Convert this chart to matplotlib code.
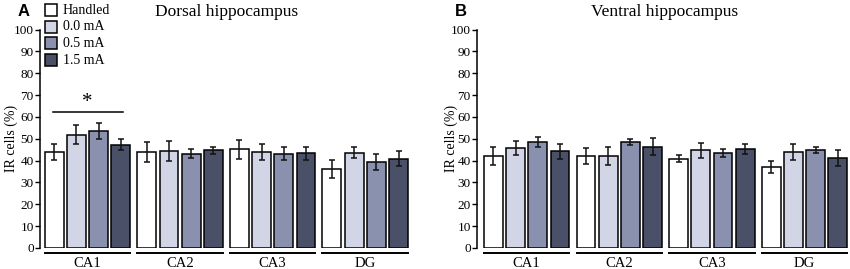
import matplotlib
matplotlib.use("Agg")
import matplotlib.pyplot as plt
from matplotlib.patches import Rectangle

regions = ["CA1", "CA2", "CA3", "DG"]
groups = ["Handled", "0.0 mA", "0.5 mA", "1.5 mA"]
colors = ["#ffffff", "#d2d5e5", "#8a91ae", "#4a5068"]

dorsal_mean = [[44.0, 51.9, 53.6, 47.2],
               [44.0, 44.4, 43.2, 44.7],
               [45.2, 44.0, 43.2, 43.3],
               [36.3, 43.6, 39.4, 40.9]]
dorsal_err = [[3.8, 4.5, 3.6, 2.5],
              [4.6, 4.6, 2.0, 1.5],
              [4.3, 3.6, 3.0, 2.9],
              [4.2, 2.6, 3.6, 3.3]]
ventral_mean = [[42.1, 45.8, 48.5, 44.3],
                [42.1, 42.1, 48.5, 46.4],
                [40.9, 44.7, 43.3, 45.2],
                [37.2, 44.0, 44.9, 41.2]]
ventral_err = [[4.0, 3.3, 2.5, 3.4],
               [3.8, 4.2, 1.3, 3.8],
               [1.6, 3.4, 1.8, 2.3],
               [2.7, 3.7, 1.5, 3.8]]

serif = "Liberation Serif"
plt.rcParams['font.family'] = [serif, 'DejaVu Serif']

fig = plt.figure(figsize=(8.5, 2.69), dpi=100)
W, H = 850, 269
bottom = (H - 248) / H
height = (248 - 29.5) / H
step = 4.17
bw = 0.85
pxu = 22.2

def panel(left_px, xmin, means, errs, title, letter, letter_px, label_right_px, legend=False):
    xmax = 16.2
    width_px = (xmax - xmin) * pxu
    ax = fig.add_axes([left_px / W, bottom, width_px / W, height])
    for g in range(4):
        for i in range(4):
            x = g * step + i
            ax.bar(x, means[g][i], width=bw, color=colors[i], edgecolor="black",
                   linewidth=1.1, zorder=2)
            ax.errorbar(x, means[g][i], yerr=errs[g][i], color="#111111",
                        capsize=2.3, elinewidth=1.1, capthick=1.1, zorder=3)
        x0 = g * step - bw / 2
        x1 = g * step + 3 + bw / 2
        ax.plot([x0, x1], [-2.4, -2.4], color="black", lw=1.4, clip_on=False)
        ax.text(g * step + 1.5, -4.2, regions[g], ha="center", va="top",
                fontsize=10.5, clip_on=False)
    ax.set_xlim(xmin, xmax)
    ax.set_ylim(0, 100)
    ax.set_yticks(range(0, 101, 10))
    ax.tick_params(axis="y", direction="out", length=3.5, width=1.0,
                   labelsize=9.5, pad=1)
    ax.set_xticks([])
    for s in ["top", "right", "bottom"]:
        ax.spines[s].set_visible(False)
    ax.spines["left"].set_linewidth(1.1)
    ax.set_ylabel("IR cells (%)", fontsize=10)
    ax.yaxis.set_label_coords((label_right_px - left_px) / width_px, 0.5)
    fig.text((left_px + width_px / 2) / W, 1 - 12 / H, title, ha="center",
             va="center", fontsize=12.5)
    fig.text(letter_px / W, 1 - 12 / H, letter, ha="left", va="center",
             fontsize=12, fontweight="bold", family="Liberation Sans")
    if legend:
        for k, lab in enumerate(groups):
            yc = 10 + k * 16.7
            fig.patches.append(Rectangle((45 / W, 1 - (yc + 6) / H), 12 / W, 12 / H,
                                         transform=fig.transFigure,
                                         facecolor=colors[k], edgecolor="black",
                                         linewidth=1.1))
            fig.text(63 / W, 1 - yc / H, lab, ha="left", va="center", fontsize=10)
    return ax

axA = panel(40, -0.64, dorsal_mean, dorsal_err, "Dorsal hippocampus", "A", 18, 17.5, legend=True)
axA.plot([-0.05, 3.1], [62.1, 62.1], color="black", lw=1.1)
axA.text(1.5, 66.4, "*", ha="center", va="center", fontsize=15)
axB = panel(477, -0.74, ventral_mean, ventral_err, "Ventral hippocampus", "B", 455, 457.5)

fig.savefig("out.png", dpi=100)
